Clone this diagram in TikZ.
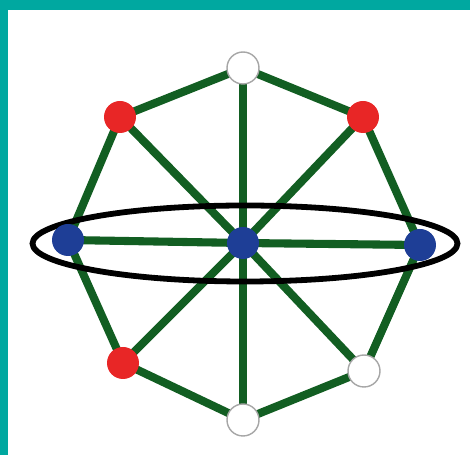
\documentclass[tikz,border=0pt]{standalone}
\usetikzlibrary{backgrounds}
\definecolor{frameteal}{RGB}{0,168,160}
\definecolor{bondgreen}{RGB}{18,94,34}
\definecolor{atomblue}{RGB}{30,62,150}
\definecolor{atomred}{RGB}{232,38,38}
\begin{document}
\begin{tikzpicture}[
  atom/.style={circle,minimum size=0.64cm,inner sep=0pt},
  blueatom/.style={atom,fill=atomblue},
  redatom/.style={atom,fill=atomred},
  whiteatom/.style={atom,fill=white,draw=gray!70,line width=0.8pt},
  bond/.style={bondgreen,line width=4.6pt}]
\useasboundingbox (0,0) rectangle (9.4,-9.1);
\fill[frameteal] (0,0) rectangle (9.4,-0.2);
\fill[frameteal] (0,0) rectangle (0.16,-9.1);
\node[whiteatom] (top) at (4.86,-1.36) {};
\node[redatom] (tl) at (2.40,-2.34) {};
\node[redatom] (tr) at (7.26,-2.34) {};
\node[blueatom] (lft) at (1.36,-4.80) {};
\node[blueatom] (ctr) at (4.86,-4.86) {};
\node[blueatom] (rgt) at (8.40,-4.90) {};
\node[redatom] (bl) at (2.46,-7.26) {};
\node[whiteatom] (br) at (7.28,-7.42) {};
\node[whiteatom] (bot) at (4.86,-8.40) {};
\begin{scope}[on background layer]
% ring
\draw[bond] (top.center)--(tl.center)--(lft.center)--(bl.center)--(bot.center)--(br.center)--(rgt.center)--(tr.center)--cycle;
% spokes
\foreach \a in {top,tl,tr,lft,rgt,bl,br,bot}
  \draw[bond] (ctr.center)--(\a.center);
\draw[black,line width=3.3pt] (4.90,-4.87) ellipse (4.25cm and 0.76cm);
\end{scope}
\end{tikzpicture}
\end{document}
